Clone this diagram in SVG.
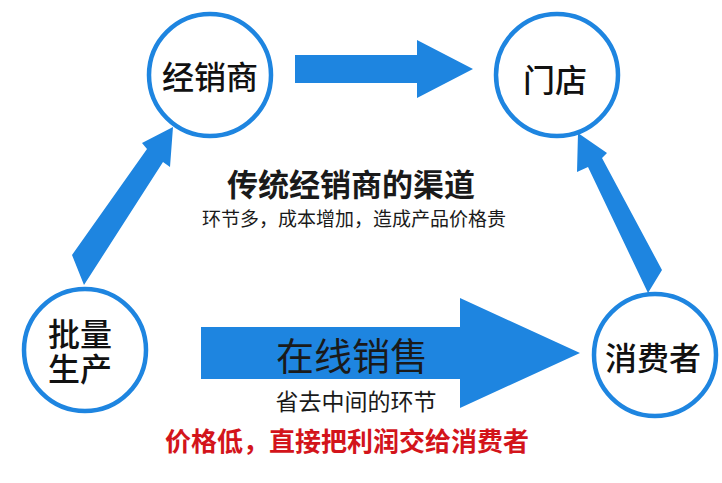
<svg xmlns="http://www.w3.org/2000/svg" width="722" height="483" viewBox="0 0 722 483">
<style>
.node circle{fill:#fff;stroke:#1e85e0;stroke-width:4.5}
.lbl{font-family:"Noto Sans CJK SC","Noto Sans",sans-serif;font-size:32px;fill:#111;text-anchor:middle;font-weight:500}
.arr{fill:#1e85e0}
.t{font-family:"Noto Sans CJK SC","Noto Sans",sans-serif;text-anchor:middle;fill:#1a1a1a}
</style>
<rect width="722" height="483" fill="#fff"/>
<g id="connectors">
<path class="arr" d="M295,55 L417,55 L417,40 L473,69 L417,98 L417,83 L295,83 Z"/>
<path class="arr" d="M72,255 L147,149 L142,143 L173,127 L170,167 L163,162 L84,285 Z"/>
<path class="arr" d="M648,293 L588,167 L577,172 L578,133 L607,153 L602,158 L662,270 Z"/>
<path class="arr" d="M201,327 L460,327 L460,298 L580,353 L460,408 L460,379 L201,379 Z"/>
</g>
<g id="node-jxs" class="node"><circle cx="210" cy="75" r="61"/><text class="lbl" x="210" y="89">经销商</text></g>
<g id="node-md" class="node"><circle cx="557" cy="75" r="61"/><text class="lbl" x="555" y="92">门店</text></g>
<g id="node-plsc" class="node"><circle cx="85" cy="350" r="61"/><text class="lbl" x="80" y="346"><tspan x="80" y="346">批量</tspan><tspan x="80" y="381">生产</tspan></text></g>
<g id="node-xfz" class="node"><circle cx="655" cy="355" r="61"/><text class="lbl" x="653" y="370">消费者</text></g>
<g id="labels">
<text class="t" x="351" y="196" font-size="31" font-weight="bold">传统经销商的渠道</text>
<text class="t" x="354" y="226" font-size="19">环节多，成本增加，造成产品价格贵</text>
<text class="t" x="352" y="370" font-size="38">在线销售</text>
<text class="t" x="356" y="410" font-size="23">省去中间的环节</text>
<text class="t" x="347" y="451" font-size="26" font-weight="bold" fill="#d3141b" style="fill:#d3141b">价格低，直接把利润交给消费者</text>
</g>
</svg>
